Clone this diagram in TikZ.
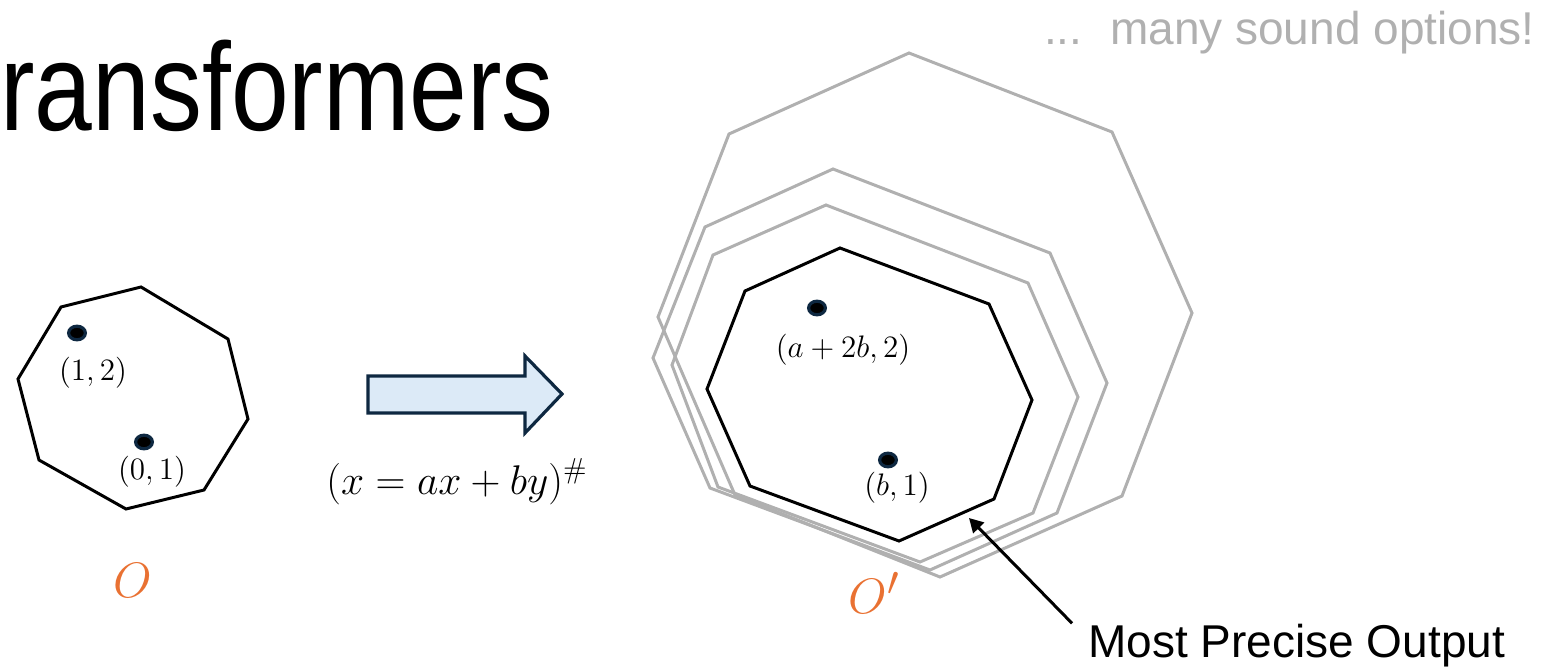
\documentclass[tikz,border=0pt]{standalone}
\usepackage{fontspec}
\newfontfamily\slidefont{Liberation Sans}
\newfontfamily\titlefont[FakeStretch=0.83]{Liberation Sans}
\usetikzlibrary{arrows.meta,shapes.geometric}
\definecolor{navy}{HTML}{0E2841}
\definecolor{paleblue}{HTML}{DCEAF7}
\definecolor{softgray}{HTML}{B0B0B0}
\definecolor{accent}{HTML}{E97132}

\begin{document}
\begin{tikzpicture}
[x=0.5pt, y=-0.5pt, font=\fontsize{14.4}{17}\selectfont]
\tikzstyle{octagon}=[line width=1.5pt, line join=miter]
\tikzstyle{exact}=[octagon, draw=black]
\tikzstyle{option}=[octagon, draw=softgray]
\tikzstyle{point}=[ellipse, draw=navy, fill=black, line width=1.6pt, minimum width=8.4pt, minimum height=6.8pt, inner sep=0pt]
\tikzstyle{coords}=[scale=1.08]
\tikzstyle{block}=[draw=navy, fill=paleblue, line width=1.6pt, line join=miter]
\tikzstyle{pointer}=[-{Triangle[length=7pt, width=7.5pt]}, line width=1.5pt]
\tikzstyle{setname}=[text=accent, font=\fontsize{24.88}{28}\selectfont]
\useasboundingbox (0,0) rectangle (1555,669);

\node[anchor=base west, inner sep=0pt, font=\titlefont\fontsize{62.5}{70}\selectfont] (title) at (0,130) {ransformers};
\node[anchor=base east, inner sep=0pt, text=softgray, font=\slidefont\fontsize{23}{27}\selectfont] (more) at (1535,44) {...\hspace{0.6em}many sound options!};

\draw[exact] (61,307)--(141,287)--(228,339)--(248,419)--(204,490)--(126,509)--(39,460)--(18,379)--cycle;
\node[point] (P1) at (77,333) {};
\node[point] (P2) at (144,442) {};
\node[coords] (L1) at (93,373) {$(1,2)$};
\node[coords] (L2) at (152,472) {$(0,1)$};
\node[setname] (O) at (133,580) {$O$};

\draw[block] (368,376)--(525,376)--(525,356)--(562,394)--(525,433)--(525,413)--(368,413)--cycle;
\node[anchor=base west, inner sep=0pt, font=\fontsize{20.74}{24}\selectfont] (op) at (326,494) {$(x = ax + by)^{\#}$};

\draw[option] (729,134)--(909,53)--(1112,132)--(1192,313)--(1122,496)--(940,577)--(735,495)--(658,317)--cycle;
\draw[option] (705,227)--(833,169)--(1050,253)--(1107,383)--(1057,513)--(930,570)--(710,488)--(653,358)--cycle;
\draw[option] (713,255)--(826,205)--(1028,283)--(1078,397)--(1033,513)--(920,562)--(718,487)--(672,365)--cycle;
\draw[exact] (745,291)--(840,248)--(989,304)--(1032,400)--(994,499)--(899,541)--(750,486)--(707,389)--cycle;
\node[point] (Q1) at (817,308) {};
\node[point] (Q2) at (888,460) {};
\node[coords] (M1) at (843,350) {$(a+2b,2)$};
\node[coords] (M2) at (897,488) {$(b,1)$};
\node[setname] (Oprime) at (874,593) {$O'$};

\node[anchor=base west, inner sep=0pt, font=\slidefont\fontsize{23}{28}\selectfont] (best) at (1088,657) {Most Precise Output};
\coordinate (hit) at (969,518);
\coordinate (tail) at ([xshift=-8pt]best.north west);
\draw[pointer] (tail) -- (hit);
\end{tikzpicture}
\end{document}
